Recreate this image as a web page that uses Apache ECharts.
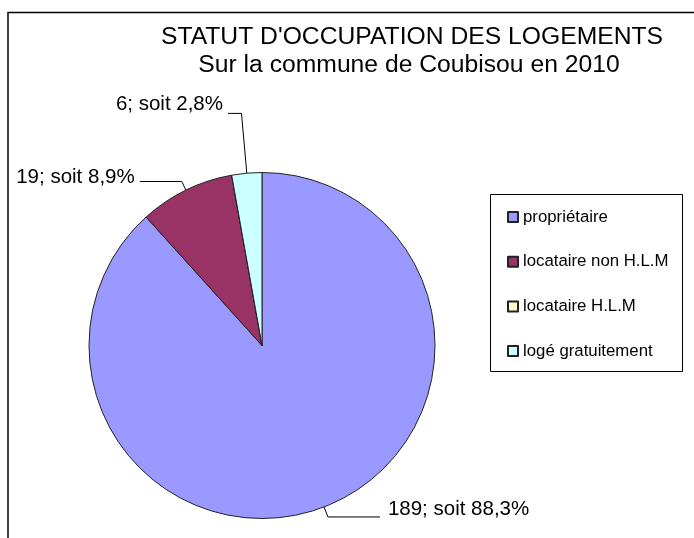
<!DOCTYPE html>
<html>
<head>
<meta charset="utf-8">
<script src="https://cdn.jsdelivr.net/npm/echarts@6/dist/echarts.min.js"></script>
<style>
  html, body { margin: 0; padding: 0; background: #fff; }
  #chart { width: 694px; height: 538px; }
</style>
</head>
<body>
<div id="chart"></div>
<script>
// Housing occupancy status, commune of Coubisou, 2010
const categories = ['propriétaire', 'locataire non H.L.M', 'locataire H.L.M', 'logé gratuitement'];
const counts = [189, 19, 0, 6];
const colors = ['#9999FF', '#993366', '#FFFFCC', '#CCFFFF'];
const titleLines = ["STATUT D'OCCUPATION DES LOGEMENTS", 'Sur la commune de Coubisou en 2010'];

const FONT = "Arial, 'Liberation Sans', sans-serif";

// leader-line geometry per slice: radial segment, horizontal segment,
// gap to the text, and how far the text sits above the line end (x2)
const leader = [
  { length: 10.7, length2: 52, gap: 8, lift2: 15 },
  { length: 9.6, length2: 42, gap: 5, lift2: 8 },
  { length: 0, length2: 0, gap: 5, lift2: 0 },
  { length: 60, length2: 13.5, gap: 5, lift2: 18 }
];

const data = categories.map((name, i) => {
  const item = {
    name: name,
    value: counts[i],
    itemStyle: { color: colors[i] }
  };
  if (counts[i] === 0) {
    item.label = { show: false };
    item.labelLine = { show: false };
  } else {
    item.label = { distanceToLabelLine: leader[i].gap };
    item.labelLine = { length: leader[i].length, length2: leader[i].length2 };
  }
  return item;
});

// an invisible spacer line under each label raises the text above its leader line
const rich = {};
leader.forEach((l, i) => {
  rich['s' + i] = { fontSize: 1, lineHeight: Math.max(l.lift2, 1), height: Math.max(l.lift2, 1) };
});

const chart = echarts.init(document.getElementById('chart'), null, { renderer: 'canvas' });

chart.setOption({
  backgroundColor: '#ffffff',
  animation: false,
  graphic: [
    {
      type: 'rect',
      shape: { x: 8, y: 12.5, width: 720, height: 560 },
      style: { fill: 'none', stroke: '#000', lineWidth: 1.5 },
      silent: true
    },
    {
      type: 'rect',
      shape: { x: 490.5, y: 194.5, width: 192, height: 177 },
      style: { fill: '#fff', stroke: '#000', lineWidth: 1 },
      silent: true,
      z: 1
    },
    {
      type: 'text',
      x: 412, y: 37.5,
      style: {
        text: titleLines[0], fill: '#000', font: '24.7px ' + FONT,
        align: 'center', verticalAlign: 'middle'
      },
      silent: true
    },
    {
      type: 'text',
      x: 409, y: 65.5,
      style: {
        text: titleLines[1], fill: '#000', font: '24.7px ' + FONT,
        align: 'center', verticalAlign: 'middle'
      },
      silent: true
    }
  ],
  legend: {
    orient: 'vertical',
    left: 507,
    top: 208.5,
    padding: 0,
    itemWidth: 10,
    itemHeight: 10,
    itemGap: 27.7,
    icon: 'rect',
    z: 5,
    textStyle: { color: '#000', fontSize: 16.8, fontFamily: FONT, lineHeight: 17 },
    data: categories
  },
  series: [{
    type: 'pie',
    center: [262, 345.5],
    radius: 173,
    startAngle: 90,
    clockwise: true,
    avoidLabelOverlap: false,
    stillShowZeroSum: true,
    itemStyle: { borderColor: '#222', borderWidth: 1 },
    emphasis: { disabled: true },
    percentPrecision: 1,
    label: {
      show: true,
      position: 'outside',
      color: '#000',
      fontSize: 20.5,
      lineHeight: 22,
      fontFamily: FONT,
      bleedMargin: 0,
      rich: rich,
      formatter: p => p.value + '; soit ' + p.percent.toFixed(1).replace('.', ',') + '%'
        + '\n{s' + p.dataIndex + '|\u00a0}'
    },
    labelLine: {
      show: true,
      smooth: false,
      lineStyle: { color: '#000', width: 1 }
    },
    data: data
  }]
});
</script>
</body>
</html>
